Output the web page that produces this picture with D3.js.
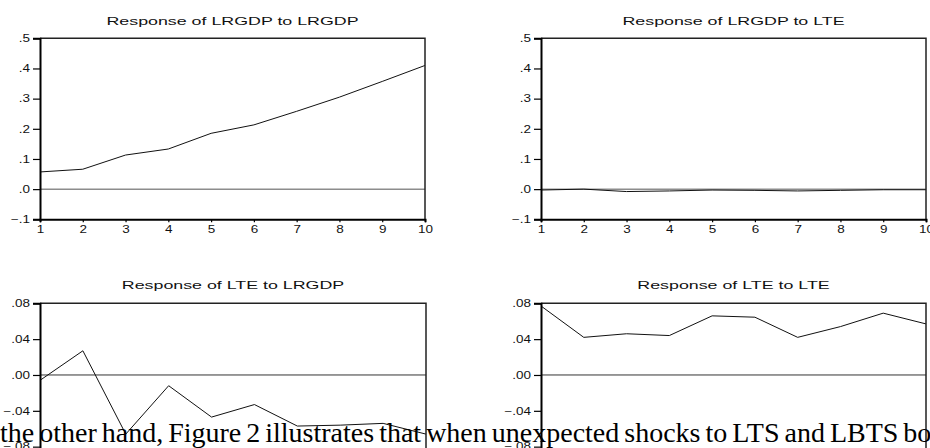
<!DOCTYPE html>
<html>
<head>
<meta charset="utf-8">
<script src="https://cdn.jsdelivr.net/npm/d3@7"></script>
<style>
html, body { margin: 0; padding: 0; background: #fff; overflow: hidden; }
svg { display: block; }
</style>
</head>
<body>
<div id="chart"></div>
<script>
// impulse responses, periods 1..10
var periods = [1, 2, 3, 4, 5, 6, 7, 8, 9, 10];
var gdpToGdp = [0.057, 0.066, 0.113, 0.133, 0.185, 0.213, 0.258, 0.305, 0.357, 0.410];
var gdpToTe  = [-0.003, 0.000, -0.008, -0.006, -0.003, -0.004, -0.006, -0.004, -0.002, -0.002];
var teToGdp  = [-0.006, 0.027, -0.066, -0.012, -0.047, -0.033, -0.057, -0.056, -0.054, -0.066];
var teToTe   = [0.077, 0.042, 0.046, 0.044, 0.066, 0.0645, 0.042, 0.054, 0.069, 0.057];

var topTicks = [-0.1, 0, 0.1, 0.2, 0.3, 0.4, 0.5];
var bottomTicks = [-0.12, -0.08, -0.04, 0, 0.04, 0.08];
var titles = ["Response of LRGDP to LRGDP", "Response of LRGDP to LTE",
              "Response of LTE to LRGDP", "Response of LTE to LTE"];

// line of the page that sits over the lower charts
var caption = "the other hand, Figure 2 illustrates that when unexpected shocks to LTS and LBTS both";

var W = 930, H = 448;

var svg = d3.select("#chart").append("svg")
  .attr("width", W)
  .attr("height", H)
  .style("font-family", "'Liberation Sans', Arial, sans-serif");

function fmtTop(v) {
  return d3.format(".1f")(v).replace("0.", ".");
}
function fmtBottom(v) {
  return d3.format(".2f")(v).replace("0.", ".");
}

var panels = [
  { title: titles[0], values: gdpToGdp, x0: 40, x1: 425, y0: 219.3, y1: 38.3, domain: [-0.1, 0.5], ticks: topTicks, fmt: fmtTop, zero: "#8c8c8c", zw: 1.5, ty: 25 },
  { title: titles[1], values: gdpToTe,  x0: 541, x1: 926, y0: 219.3, y1: 38.3, domain: [-0.1, 0.5], ticks: topTicks, fmt: fmtTop, zero: "#8c8c8c", zw: 1.5, ty: 25 },
  { title: titles[2], values: teToGdp,  x0: 40, x1: 426, y0: 482.5, y1: 303.3, domain: [-0.12, 0.08], ticks: bottomTicks, fmt: fmtBottom, zero: "#333", zw: 1, ty: 288.5 },
  { title: titles[3], values: teToTe,   x0: 541, x1: 926, y0: 482.5, y1: 303.3, domain: [-0.12, 0.08], ticks: bottomTicks, fmt: fmtBottom, zero: "#333", zw: 1, ty: 288.5 }
];

panels.forEach(function(p) {
  var x = d3.scaleLinear().domain([1, 10]).range([p.x0, p.x1]);
  var y = d3.scaleLinear().domain(p.domain).range([p.y0, p.y1]);
  var g = svg.append("g");

  // title, stretched sideways like the original
  g.append("text")
    .attr("transform", "translate(" + ((p.x0 + p.x1) / 2) + "," + p.ty + ") scale(1.55,1)")
    .attr("text-anchor", "middle")
    .style("font-size", "11.5px")
    .attr("fill", "#111")
    .text(p.title);

  // zero line
  g.append("line")
    .attr("x1", p.x0).attr("x2", p.x1)
    .attr("y1", y(0)).attr("y2", y(0))
    .attr("stroke", p.zero)
    .attr("stroke-width", p.zw);

  // response line
  var line = d3.line()
    .x(function(d, i) { return x(periods[i]); })
    .y(function(d) { return y(d); });
  g.append("path")
    .datum(p.values)
    .attr("d", line)
    .attr("fill", "none")
    .attr("stroke", "#111")
    .attr("stroke-width", 1);

  // frame: top and right
  g.append("path")
    .attr("d", "M" + p.x0 + "," + p.y1 + "H" + p.x1 + "V" + p.y0)
    .attr("fill", "none")
    .attr("stroke", "#222")
    .attr("stroke-width", 1.5);

  // y axis
  var ya = g.append("g")
    .attr("transform", "translate(" + p.x0 + ",0)")
    .call(d3.axisLeft(y).tickValues(p.ticks).tickSize(7).tickPadding(3).tickFormat(p.fmt));
  ya.select(".domain").attr("stroke", "#000").attr("stroke-width", 2);
  ya.selectAll(".tick line").attr("stroke", "#000").attr("stroke-width", 1.2);
  ya.selectAll(".tick text")
    .attr("x", null)
    .attr("transform", "translate(-10,0) scale(1.35,1)")
    .attr("fill", "#111")
    .style("font-size", "10px")
    .style("font-family", "'Liberation Sans', Arial, sans-serif");

  // x axis
  var xa = g.append("g")
    .attr("transform", "translate(0," + p.y0 + ")")
    .call(d3.axisBottom(x).tickValues(periods).tickSize(3).tickPadding(4).tickFormat(d3.format("d")));
  xa.select(".domain").attr("stroke", "#000").attr("stroke-width", 2);
  xa.selectAll(".tick line").attr("stroke", "#000").attr("stroke-width", 1.2);
  xa.selectAll(".tick text")
    .attr("transform", "scale(1.35,1)")
    .attr("fill", "#111")
    .style("font-size", "10px")
    .style("font-family", "'Liberation Sans', Arial, sans-serif");
});

// page text over the lower charts
svg.append("text")
  .attr("x", 0)
  .attr("y", 442)
  .style("font-family", "'Liberation Serif', 'Times New Roman', serif")
  .style("font-size", "28px")
  .style("word-spacing", "-2px")
  .attr("fill", "#000")
  .text(caption);
</script>
</body>
</html>
